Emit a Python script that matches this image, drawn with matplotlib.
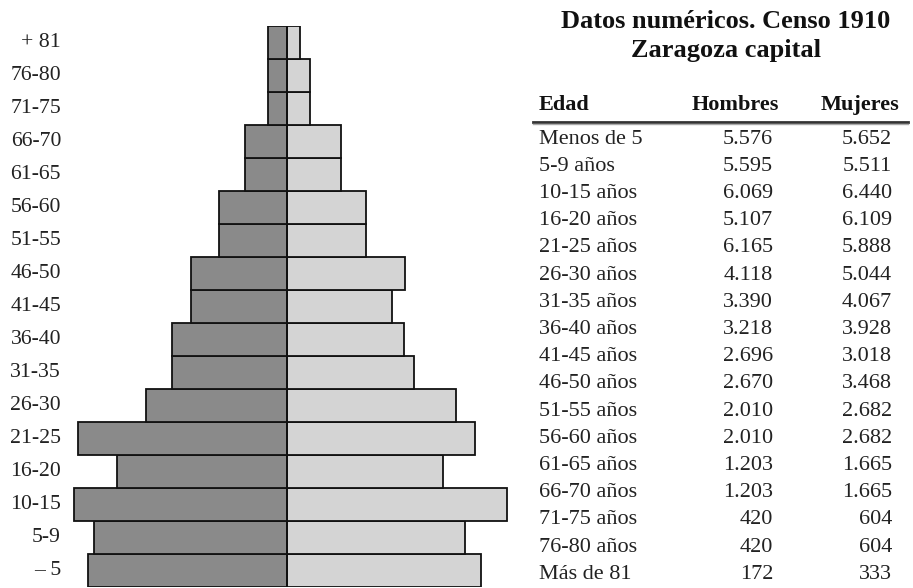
import matplotlib
matplotlib.use("Agg")
import matplotlib.pyplot as plt

# ---- data ----
grupos = ["– 5", "5-9", "10-15", "16-20", "21-25", "26-30", "31-35", "36-40",
          "41-45", "46-50", "51-55", "56-60", "61-65", "66-70", "71-75",
          "76-80", "+ 81"]
# bar lengths as drawn in the pyramid (persons)
hombres_barra = [5860, 5685, 6265, 5015, 6165, 4160, 3395, 3395,
                 2830, 2830, 1990, 1990, 1220, 1220, 552, 552, 560]
mujeres_barra = [5730, 5260, 6500, 4610, 5555, 4995, 3755, 3460,
                 3100, 3480, 2340, 2340, 1610, 1610, 680, 680, 400]

edad_tabla = ["Menos de 5", "5-9 años", "10-15 años", "16-20 años", "21-25 años",
              "26-30 años", "31-35 años", "36-40 años", "41-45 años", "46-50 años",
              "51-55 años", "56-60 años", "61-65 años", "66-70 años", "71-75 años",
              "76-80 años", "Más de 81"]
hombres_tabla = [5576, 5595, 6069, 5107, 6165, 4118, 3390, 3218, 2696, 2670,
                 2010, 2010, 1203, 1203, 420, 420, 172]
mujeres_tabla = [5652, 5511, 6440, 6109, 5888, 5044, 4067, 3928, 3018, 3468,
                 2682, 2682, 1665, 1665, 604, 604, 333]

titulo = ["Datos numéricos. Censo 1910", "Zaragoza capital"]
cabecera = ["Edad", "Hombres", "Mujeres"]

# ---- figure ----
W, H = 913, 588
fig = plt.figure(figsize=(W / 100, H / 100), dpi=100)
fig.patch.set_facecolor("white")
SERIF = ["Liberation Serif", "DejaVu Serif"]
TXT = "#222222"


def fx(px):
    return px / W


def fy(py):
    return 1 - py / H


# pyramid axes (pixel geometry)
center = 286.7
half = 230.0
scale = 29.5  # persons per pixel
ax_left = center - half
ax_top, ax_bot = 25.7, 586.7
ax = fig.add_axes([fx(ax_left), fy(ax_bot), 2 * half / W, (ax_bot - ax_top) / H])
ax.set_xlim(-half * scale, half * scale)
ax.set_ylim(-0.5, len(grupos) - 0.5)
ax.axis("off")

pos = list(range(len(grupos)))
ax.barh(pos, [-v for v in hombres_barra], height=1.0, color="#8a8a8a",
        edgecolor="#111111", linewidth=1.3)
ax.barh(pos, mujeres_barra, height=1.0, color="#d4d4d4",
        edgecolor="#111111", linewidth=1.3)
ax.plot([0, 0], [-0.5, len(grupos) - 0.5], color="#111111", lw=1.4)

trans = ax.get_yaxis_transform()
lab_x = (61 - ax_left) / (2 * half)
for p, g in zip(pos, grupos):
    ax.text(lab_x, p, g, transform=trans, ha="right", va="center",
            fontsize=15.7, family=SERIF, color=TXT)

# ---- table ----
fig.text(fx(726), fy(21), titulo[0], ha="center", va="center", fontsize=19,
         fontweight="bold", family=SERIF, color="#111111")
fig.text(fx(726), fy(50), titulo[1], ha="center", va="center", fontsize=19,
         fontweight="bold", family=SERIF, color="#111111")

hy = 105
fig.text(fx(539), fy(hy), cabecera[0], ha="left", va="center", fontsize=16,
         fontweight="bold", family=SERIF, color="#111111")
fig.text(fx(779), fy(hy), cabecera[1], ha="right", va="center", fontsize=16,
         fontweight="bold", family=SERIF, color="#111111")
fig.text(fx(899), fy(hy), cabecera[2], ha="right", va="center", fontsize=16,
         fontweight="bold", family=SERIF, color="#111111")
fig.add_artist(plt.Line2D([fx(533), fx(908)], [fy(122), fy(122)],
                          color="#333333", lw=2.0))
fig.add_artist(plt.Line2D([fx(533), fx(908)], [fy(124), fy(124)],
                          color="#aaaaaa", lw=1.0))


def fmt(v):
    return f"{v:,}".replace(",", ".")


y0, dy = 139, 27.2
for i, (e, h, m) in enumerate(zip(edad_tabla, hombres_tabla, mujeres_tabla)):
    y = y0 + i * dy
    fig.text(fx(539), fy(y), e, ha="left", va="center", fontsize=16,
             family=SERIF, color=TXT)
    fig.text(fx(773), fy(y), fmt(h), ha="right", va="center", fontsize=16,
             family=SERIF, color=TXT)
    fig.text(fx(892), fy(y), fmt(m), ha="right", va="center", fontsize=16,
             family=SERIF, color=TXT)

fig.savefig("out.png", dpi=100, facecolor="white")
